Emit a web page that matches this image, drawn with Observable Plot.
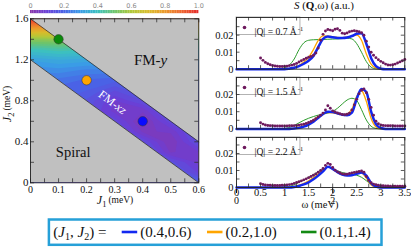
<!DOCTYPE html>
<html><head><meta charset="utf-8">
<script src="https://cdn.jsdelivr.net/npm/d3@7"></script>
<script src="https://cdn.jsdelivr.net/npm/@observablehq/plot@0.6"></script>
<style>
body{margin:0;background:#fff;}
#root{position:relative;width:411px;height:247px;overflow:hidden;background:#fff;}
#root svg{position:absolute;}
</style></head><body><div id="root"></div>
<script>
const SERIF = '"Liberation Serif","Times New Roman",Times,serif';

// ---------- left panel data ----------
const j1Ticks = [0, 0.1, 0.2, 0.3, 0.4, 0.5, 0.6];
const j1Minor = [0, 0.05, 0.1, 0.15, 0.2, 0.25, 0.3, 0.35, 0.4, 0.45, 0.5, 0.55, 0.6];
const j2Ticks = [0, 0.4, 0.8, 1.2, 1.6];
const j2Minor = [0, 0.2, 0.4, 0.6, 0.8, 1.0, 1.2, 1.4, 1.6];
// normalized intensity on a grid: columns J1 = 0..0.6 (step 0.1), rows J2 = 1.6 .. 0 (step 0.1)
const gridJ1 = [0, 0.1, 0.2, 0.3, 0.4, 0.5, 0.6];
const gridJ2 = [1.6, 1.5, 1.4, 1.3, 1.2, 1.1, 1.0, 0.9, 0.8, 0.7, 0.6, 0.5, 0.4, 0.3, 0.2, 0.1, 0.0];
const gridV = [
  [1.00, 0.97, 0.95, 0.95, 0.95, 0.95, 0.95],
  [0.80, 0.78, 0.76, 0.76, 0.76, 0.76, 0.76],
  [0.56, 0.57, 0.55, 0.55, 0.55, 0.55, 0.55],
  [0.42, 0.44, 0.43, 0.43, 0.43, 0.43, 0.43],
  [0.33, 0.35, 0.34, 0.34, 0.35, 0.35, 0.35],
  [0.28, 0.29, 0.27, 0.27, 0.30, 0.30, 0.30],
  [0.25, 0.24, 0.22, 0.21, 0.25, 0.27, 0.27],
  [0.25, 0.21, 0.20, 0.15, 0.20, 0.24, 0.25],
  [0.25, 0.20, 0.17, 0.10, 0.15, 0.22, 0.24],
  [0.25, 0.20, 0.16, 0.09, 0.08, 0.19, 0.22],
  [0.25, 0.20, 0.16, 0.14, 0.04, 0.14, 0.20],
  [0.25, 0.20, 0.16, 0.18, 0.07, 0.08, 0.18],
  [0.25, 0.20, 0.16, 0.18, 0.15, 0.05, 0.16],
  [0.25, 0.20, 0.16, 0.18, 0.20, 0.07, 0.10],
  [0.25, 0.20, 0.16, 0.18, 0.20, 0.16, 0.09],
  [0.25, 0.20, 0.16, 0.18, 0.20, 0.20, 0.12],
  [0.25, 0.20, 0.16, 0.18, 0.20, 0.22, 0.22]
];
const upperEdge = [[0, 1.6], [0.6, 0.4]];
const lowerEdge = [[0, 1.2], [0.6, 0.0]];
const markerJ1 = [0.4, 0.2, 0.1];
const markerJ2 = [0.6, 1.0, 1.4];
const markerColor = ["#0a0aff", "#ffa500", "#0b8a0b"];
const colorStops = [0, 0.1, 0.2, 0.3, 0.4, 0.5, 0.6, 0.7, 0.8, 0.9, 1.0];
const colorHex = ["#8a35a8","#6a40d6","#4a62e6","#3a9ce6","#3cc0c0","#6cc46c","#b0c83a","#d8bc2c","#ec9a2c","#ee652e","#e52b2b"];
const cbLabels = [0, 0.2, 0.4, 0.6, 0.8, 1.0];

// ---------- right panels data ----------
const expOmega = [0.5,0.55,0.6,0.65,0.7,0.75,0.8,0.85,0.9,0.95,1.0,1.05,1.1,1.15,1.2,1.25,1.3,1.35,1.4,1.45,1.5,1.55,1.6,1.65,1.7,1.75,1.8,1.85,1.9,1.95,2.0,2.05,2.1,2.15,2.2,2.25,2.3,2.35,2.4,2.45,2.5,2.55,2.6,2.65,2.7,2.75,2.8,2.85,2.9,2.95,3.0,3.05,3.1,3.15,3.2,3.25,3.3,3.35,3.4,3.45,3.5];
const lineOmega = [0,0.1,0.2,0.3,0.4,0.5,0.6,0.7,0.8,0.9,1.0,1.1,1.2,1.3,1.4,1.5,1.6,1.7,1.8,1.9,2.0,2.1,2.2,2.3,2.4,2.5,2.6,2.7,2.8,2.9,3.0,3.1,3.2,3.3,3.4,3.5];

const exp07 = [0.0066,0.0052,0.0040,0.0032,0.0026,0.0022,0.0019,0.0017,0.0016,0.0016,
 0.0017,0.0018,0.0021,0.0024,0.0028,0.0034,0.0042,0.0050,0.0057,0.0064,
 0.0070,0.0075,0.0082,0.0095,0.0125,0.0170,0.0205,0.0225,0.0233,0.0230,
 0.0226,0.0235,0.0238,0.0228,0.0212,0.0208,0.0213,0.0220,0.0224,0.0226,
 0.0223,0.0220,0.0214,0.0200,0.0165,0.0130,0.0100,0.0082,0.0068,0.0056,
 0.0046,0.0038,0.0030,0.0025,0.0024,0.0026,0.0030,0.0036,0.0043,0.0050,0.0057];
const exp15 = [0.0036,0.0028,0.0023,0.0020,0.0019,0.0018,0.0017,0.0017,0.0017,0.0017,
 0.0017,0.0017,0.0018,0.0018,0.0019,0.0020,0.0022,0.0025,0.0028,0.0032,
 0.0037,0.0043,0.0050,0.0060,0.0070,0.0080,0.0092,0.0110,0.0135,0.0120,
 0.0105,0.0098,0.0093,0.0088,0.0084,0.0082,0.0085,0.0092,0.0110,0.0140,
 0.0172,0.0205,0.0225,0.0232,0.0210,0.0172,0.0125,0.0080,0.0045,0.0030,
 0.0023,0.0020,0.0019,0.0018,0.0018,0.0018,0.0017,0.0017,0.0017,0.0017,0.0017];
const exp22 = [0.0022,0.0018,0.0015,0.0014,0.0013,0.0012,0.0012,0.0012,0.0012,0.0013,
 0.0013,0.0015,0.0017,0.0020,0.0024,0.0029,0.0034,0.0039,0.0045,0.0051,
 0.0058,0.0065,0.0072,0.0080,0.0090,0.0100,0.0112,0.0130,0.0142,0.0135,
 0.0118,0.0102,0.0092,0.0085,0.0080,0.0078,0.0078,0.0082,0.0086,0.0089,
 0.0091,0.0094,0.0097,0.0090,0.0065,0.0042,0.0028,0.0020,0.0016,0.0013,
 0.0011,0.0010,0.0009,0.0009,0.0008,0.0008,0.0008,0.0008,0.0008,0.0008,0.0008];

const blue07 = [0,0,0,0,0,0,0,0,0,0,0, 0.0003,0.0008,0.0018,0.0032,0.0050,0.0078,0.0130,0.0178,0.0192,0.0188, 0.0184,0.0183,0.0186,0.0195,0.0208,0.0212,0.0150,0.0065,0.0018,0.0003, 0,0,0,0,0];
const orange07 = [0,0,0,0,0,0,0,0,0,0,0, 0.0004,0.0010,0.0022,0.0042,0.0070,0.0115,0.0170,0.0196,0.0195,0.0190, 0.0187,0.0186,0.0188,0.0195,0.0200,0.0170,0.0090,0.0030,0.0006,0, 0,0,0,0,0];
const green07 = [0,0,0,0,0,0,0,0,0, 0.0002,0.0008, 0.0025,0.0060,0.0115,0.0155,0.0170,0.0173,0.0174,0.0175,0.0176,0.0177, 0.0178,0.0180,0.0182,0.0178,0.0150,0.0100,0.0045,0.0012,0.0002,0, 0,0,0,0,0];

const blue15 = [0,0,0,0,0,0,0,0,0,0,0,0, 0.0002, 0.0006,0.0013,0.0025,0.0042,0.0064,0.0087,0.0100,0.0098, 0.0090,0.0082,0.0080,0.0095,0.0175,0.0232,0.0215,0.0100,0.0028,0.0005, 0,0,0,0,0];
const orange15 = [0,0,0,0,0,0,0,0,0,0,0,0, 0.0004, 0.0010,0.0019,0.0033,0.0052,0.0072,0.0088,0.0095,0.0093, 0.0088,0.0084,0.0088,0.0115,0.0190,0.0222,0.0160,0.0060,0.0012,0, 0,0,0,0,0];
const green15 = [0,0,0,0,0,0,0,0,0,0, 0.0002,0.0008,0.0020, 0.0035,0.0050,0.0062,0.0072,0.0080,0.0086,0.0092,0.0102, 0.0120,0.0145,0.0168,0.0178,0.0165,0.0112,0.0052,0.0015,0.0003,0, 0,0,0,0,0];

const blue22 = [0,0,0,0,0,0,0,0,0,0,0,0, 0.0003, 0.0009,0.0018,0.0030,0.0048,0.0070,0.0095,0.0122,0.0110, 0.0090,0.0076,0.0070,0.0072,0.0080,0.0088,0.0070,0.0025,0.0005,0, 0,0,0,0,0];
const orange22 = [0,0,0,0,0,0,0,0,0,0,0, 0.0002,0.0006, 0.0014,0.0025,0.0040,0.0058,0.0080,0.0102,0.0123,0.0108, 0.0092,0.0082,0.0079,0.0080,0.0085,0.0085,0.0055,0.0015,0.0002,0, 0,0,0,0,0];
const green22 = [0,0,0,0,0,0,0,0,0,0, 0.0002,0.0007,0.0016, 0.0030,0.0045,0.0060,0.0076,0.0092,0.0108,0.0118,0.0112, 0.0098,0.0088,0.0082,0.0078,0.0072,0.0060,0.0040,0.0018,0.0005,0, 0,0,0,0,0];

const qLabels = ["|Q| = 0.7 Å", "|Q| = 1.5 Å", "|Q| = 2.2 Å"];
const omegaTicks = [0, 0.5, 1, 1.5, 2, 2.5, 3, 3.5];
const omegaMinor = [0,0.25,0.5,0.75,1,1.25,1.5,1.75,2,2.25,2.5,2.75,3,3.25,3.5];
const sTicks = [0, 0.01, 0.02];
const sMinor = [0, 0.005, 0.01, 0.015, 0.02, 0.025];
const legendLabels = ["(0.4,0.6)", "(0.2,1.0)", "(0.1,1.4)"];
const lineColor = {blue: "#1228f0", orange: "#ffa500", green: "#2a9a2a"};
const expColor = "#6e1a5e";

// ---------- helpers ----------
const root = document.getElementById("root");
function place(svg, left, top) { svg.style.left = left + "px"; svg.style.top = top + "px"; root.appendChild(svg); }
function frameTicks(xs, ys, W, H, len) {
  const o = {stroke: "#333", strokeWidth: 0.8};
  return [
    Plot.tickX(xs, {x: d => d, insetTop: H - len, ...o}),
    Plot.tickX(xs, {x: d => d, insetBottom: H - len, ...o}),
    Plot.tickY(ys, {y: d => d, insetRight: W - len, ...o}),
    Plot.tickY(ys, {y: d => d, insetLeft: W - len, ...o})
  ];
}

// ---------- left panel ----------
const gridValues = gridV.flat();
const dJ1 = gridJ1[1] - gridJ1[0], dJ2 = gridJ2[0] - gridJ2[1];
const gridOpts = {
  width: gridJ1.length, height: gridJ2.length,
  x1: gridJ1[0] - dJ1 / 2, x2: gridJ1[gridJ1.length - 1] + dJ1 / 2,
  y1: gridJ2[0] + dJ2 / 2, y2: gridJ2[gridJ2.length - 1] - dJ2 / 2,
  thresholds: d3.range(0, 0.999, 0.025), clip: true
};
const cbSteps = d3.range(0, 1, 0.01);
const L = {w: 210, h: 212, ml: 30, mr: 11.7, mt: 18.3, mb: 29.7};
const LW = L.w - L.ml - L.mr, LH = L.h - L.mt - L.mb;
const left = Plot.plot({
  width: L.w, height: L.h, marginLeft: L.ml, marginRight: L.mr, marginTop: L.mt, marginBottom: L.mb,
  x: {domain: [0, 0.6]}, y: {domain: [0, 1.6]},
  color: {type: "linear", domain: colorStops, range: colorHex},
  style: {fontFamily: SERIF, background: "transparent", color: "#111", overflow: "visible"},
  marks: [
    Plot.contour(gridValues, {...gridOpts, fill: Plot.identity}),
    Plot.areaY(upperEdge, {x: d => d[0], y1: d => d[1], y2: () => 1.6, fill: "#c0c0c0"}),
    Plot.areaY(lowerEdge, {x: d => d[0], y1: () => 0, y2: d => d[1], fill: "#c0c0c0"}),
    Plot.line(upperEdge, {x: d => d[0], y: d => d[1], stroke: "#222", strokeWidth: 0.7}),
    Plot.line(lowerEdge, {x: d => d[0], y: d => d[1], stroke: "#222", strokeWidth: 0.7}),
    ...frameTicks(j1Minor, j2Minor, LW, LH, 4),
    Plot.frame({stroke: "#222", strokeWidth: 0.9}),
    Plot.axisX({ticks: j1Ticks, tickSize: 0, tickPadding: 3, fontSize: 10, label: null,
      tickFormat: d => d === 0 ? "0" : d.toFixed(1)}),
    Plot.axisY({ticks: j2Ticks, tickSize: 0, tickPadding: 2, fontSize: 11, label: null,
      tickFormat: d => d === 0 ? "0" : d.toFixed(1)}),
    // color bar
    Plot.rect(cbSteps, {x1: d => d * 0.6, x2: d => (d + 0.0105) * 0.6, y1: () => 1.650, y2: () => 1.681, fill: d => d + 0.005}),
    Plot.text(cbLabels, {x: d => d * 0.6, y: () => 1.727, text: d => d === 0 ? "0" : d.toFixed(1),
      fill: "#8a8a8a", fontSize: 6.5, fontFamily: "DejaVu Sans"}),
    // phase labels
    Plot.text(["FM-y"], {x: () => 0.428, y: () => 1.2, text: d => d, fontSize: 15, fill: "#111"}),
    Plot.text(["Spiral"], {x: () => 0.152, y: () => 0.295, text: d => d, fontSize: 14.5, fill: "#111"}),
    Plot.text(["FM-xz"], {x: () => 0.292, y: () => 0.785, text: d => d, fontSize: 12, fill: "#fff", rotate: 37}),
    ...markerJ1.map((j1, i) => Plot.dot([i], {x: () => j1, y: () => markerJ2[i], r: 4.7, fill: markerColor[i], stroke: "#333", strokeWidth: 0.5}))
  ]
});
place(left, 0, 0);
d3.select(left).selectAll("text").each(function () {
  if (this.textContent === "FM-y") this.innerHTML = 'FM-<tspan font-style="italic">y</tspan>';
  if (this.textContent === "FM-xz") this.innerHTML = 'FM-<tspan font-style="italic">xz</tspan>';
});

// ---------- right panels ----------
const panels = [
  {top: 17.3, h: 51.7, yMax: 0.0304, exp: exp07, blue: blue07, orange: orange07, green: green07, q: qLabels[0], last: false},
  {top: 77.3, h: 51.4, yMax: 0.0299, exp: exp15, blue: blue15, orange: orange15, green: green15, q: qLabels[1], last: false},
  {top: 136.7, h: 50.0, yMax: 0.0294, exp: exp22, blue: blue22, orange: orange22, green: green22, q: qLabels[2], last: true}
];
panels.forEach(p => {
  const mt = 5, mb = p.last ? 26 : 3, ml = 36, mr = 6.7, W = 211;
  const FW = W - ml - mr;
  const pxPer = p.h / p.yMax;
  const series = (vals, color, sw) => Plot.line(vals, {x: (d, i) => lineOmega[i], y: d => d, stroke: color, strokeWidth: sw, curve: "monotone-x"});
  const svg = Plot.plot({
    width: W, height: p.h + mt + mb, marginLeft: ml, marginRight: mr, marginTop: mt, marginBottom: mb,
    x: {domain: [0, 3.5], axis: p.last ? "bottom" : null},
    y: {domain: [0, p.yMax]},
    style: {fontFamily: SERIF, background: "transparent", color: "#111", overflow: "visible"},
    marks: [
      Plot.rect([0], {x1: () => 0, x2: () => 1.33, y1: () => p.yMax - 17.5 / pxPer, y2: () => p.yMax, fill: "#fff", stroke: "#aaa", strokeWidth: 0.9}),
      Plot.dot([0], {frameAnchor: "top-left", dx: 8, dy: 10, r: 1.8, fill: expColor}),
      Plot.text([p.q], {frameAnchor: "top-left", dx: 18, dy: 10.5, text: d => d, textAnchor: "start", fontSize: 9.6, fill: "#111"}),
      series(p.green, lineColor.green, 1),
      series(p.orange, lineColor.orange, 1.3),
      series(p.blue, lineColor.blue, 2.5),
      Plot.dot(p.exp, {x: (d, i) => expOmega[i], y: d => d, r: 1.45, fill: expColor}),
      ...frameTicks(omegaMinor, sMinor, FW, p.h, 3.5),
      Plot.frame({stroke: "#222", strokeWidth: 0.9}),
      Plot.axisY({ticks: sTicks, tickSize: 0, tickPadding: 3, fontSize: 10.5, label: null,
        tickFormat: d => d === 0 ? "0" : d.toFixed(2)}),
      ...(p.last ? [Plot.axisX({ticks: omegaTicks, tickSize: 0, tickPadding: 1.5, fontSize: 10.5, label: null,
        tickFormat: d => String(d)})] : [])
    ]
  });
  place(svg, 200, p.top - mt);
  d3.select(svg).selectAll("text").each(function () {
    if (this.textContent.endsWith("Å")) {
      d3.select(this).append("tspan").attr("dy", -4).attr("dx", 1).attr("font-size", 6.5).text("-1");
    }
  });
});

// ---------- titles and legend overlay ----------
const ov = d3.select(root).append("svg").attr("width", 411).attr("height", 247)
  .style("left", "0px").style("top", "0px").style("font-family", SERIF).attr("fill", "#111");
const t1 = ov.append("text").attr("x", 115).attr("y", 204).attr("text-anchor", "middle").attr("font-size", 12);
t1.append("tspan").attr("font-style", "italic").text("J");
t1.append("tspan").attr("font-size", 8.5).attr("dy", 3).text("1");
t1.append("tspan").attr("font-size", 9.5).attr("dy", -4).attr("dx", 2).text("(meV)");
const t2 = ov.append("g").attr("transform", "translate(10.5,104) rotate(-90)")
  .append("text").attr("text-anchor", "middle").attr("font-size", 12);
t2.append("tspan").attr("font-style", "italic").text("J");
t2.append("tspan").attr("font-size", 8.5).attr("dy", 3).text("2");
t2.append("tspan").attr("font-size", 9.5).attr("dy", -4).attr("dx", 2).text("(meV)");
ov.append("text").attr("x", 320).attr("y", 207.5).attr("text-anchor", "middle").attr("font-size", 10.5).text("ω (meV)");
const t3 = ov.append("text").attr("x", 324).attr("y", 8.5).attr("text-anchor", "middle").attr("font-size", 11);
t3.append("tspan").attr("font-style", "italic").text("S");
t3.append("tspan").text(" (");
t3.append("tspan").attr("font-weight", "bold").text("Q");
t3.append("tspan").text(",ω) (a.u.)");
ov.append("rect").attr("x", 48.9).attr("y", 219.5).attr("width", 332.6).attr("height", 25.3)
  .attr("fill", "#fff").attr("stroke", "#26a0d8").attr("stroke-width", 2.5);
const lg = ov.append("text").attr("x", 53.3).attr("y", 237.3).attr("font-size", 15);
lg.append("tspan").text("(");
lg.append("tspan").attr("font-style", "italic").text("J");
lg.append("tspan").attr("font-size", 10).attr("dy", 3).text("1");
lg.append("tspan").attr("dy", -3).text(", ");
lg.append("tspan").attr("font-style", "italic").text("J");
lg.append("tspan").attr("font-size", 10).attr("dy", 3).text("2");
lg.append("tspan").attr("dy", -3).text(") =");
const swX = [121.7, 207, 301];
const swC = [lineColor.blue, lineColor.orange, "#138a13"];
legendLabels.forEach((lab, i) => {
  ov.append("line").attr("x1", swX[i]).attr("x2", swX[i] + 15.5).attr("y1", 232).attr("y2", 232)
    .attr("stroke", swC[i]).attr("stroke-width", 2.6);
  ov.append("text").attr("x", swX[i] + 18.5).attr("y", 237.3).attr("font-size", 15).text(lab);
});
</script></body></html>
